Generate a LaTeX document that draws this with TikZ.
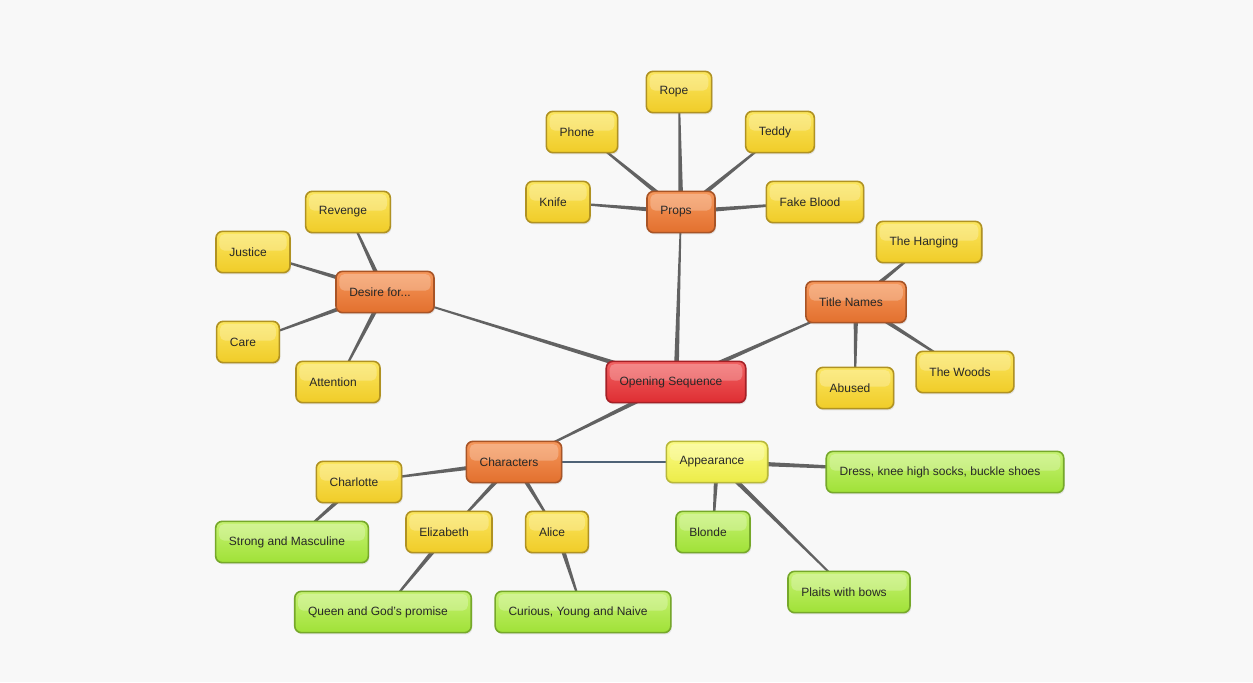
\documentclass[tikz,border=0pt]{standalone}
\usepackage{fontspec}
\setsansfont{Liberation Sans}
\usepackage{xcolor}
\usepackage{tikz}
\usetikzlibrary{calc, shadows, backgrounds}

\definecolor{paper}{RGB}{248,248,248}
\definecolor{textgray}{RGB}{40,40,40}
\definecolor{linkgray}{RGB}{98,98,98}
\definecolor{crossblue}{RGB}{78,98,118}
\definecolor{redtop}{RGB}{242,100,100}
\definecolor{redbot}{RGB}{222,45,50}
\definecolor{rededge}{RGB}{165,32,38}
\definecolor{orangetop}{RGB}{246,152,92}
\definecolor{orangebot}{RGB}{226,112,46}
\definecolor{orangeedge}{RGB}{168,84,38}
\definecolor{yellowtop}{RGB}{251,230,95}
\definecolor{yellowbot}{RGB}{240,204,40}
\definecolor{yellowedge}{RGB}{176,146,34}
\definecolor{paletop}{RGB}{251,251,135}
\definecolor{palebot}{RGB}{236,236,72}
\definecolor{paleedge}{RGB}{184,184,58}
\definecolor{greentop}{RGB}{198,242,115}
\definecolor{greenbot}{RGB}{160,225,55}
\definecolor{greenedge}{RGB}{118,168,42}

% tapered branch: wide at the parent, thin at the child
\newcommand{\mapedge}[2]{%
  \fill[linkgray] ($(#1)!1.9pt!90:(#2)$) -- ($(#2)!0.5pt!-90:(#1)$)
    -- ($(#2)!0.5pt!90:(#1)$) -- ($(#1)!1.9pt!-90:(#2)$) -- cycle;}

\begin{document}
\begin{tikzpicture}[
  x=0.75pt, y=-0.75pt,
  mapbox/.style={
    rectangle, rounded corners=5pt, line width=1.2pt,
    minimum height=31pt, inner xsep=10pt, inner ysep=2pt,
    text=textgray, font=\sffamily\fontsize{9}{11}\selectfont,
    execute at end node={\hspace*{7.5pt}},
    drop shadow={opacity=0.18, shadow xshift=0.8pt, shadow yshift=-1.3pt},
    path picture={\fill[white, opacity=0.25, rounded corners=4pt]
      ([xshift=2.5pt,yshift=-2pt]path picture bounding box.north west)
      rectangle ([xshift=-2.5pt,yshift=1pt]path picture bounding box.east);}
  },
  rootbox/.style={mapbox, draw=rededge, top color=redtop, bottom color=redbot},
  topicbox/.style={mapbox, draw=orangeedge, top color=orangetop, bottom color=orangebot},
  leafbox/.style={mapbox, draw=yellowedge, top color=yellowtop, bottom color=yellowbot},
  palebox/.style={mapbox, draw=paleedge, top color=paletop, bottom color=palebot},
  notebox/.style={mapbox, draw=greenedge, top color=greentop, bottom color=greenbot},
  crosslink/.style={draw=crossblue, line width=1pt}
]
% centre
\node[rootbox]  (root)   at (676,382) {Opening Sequence};
% props
\node[topicbox] (props)  at (681,212) {Props};
\node[leafbox]  (rope)   at (679,92)  {Rope};
\node[leafbox]  (phone)  at (582,132) {Phone};
\node[leafbox]  (teddy)  at (780,132) {Teddy};
\node[leafbox]  (knife)  at (558,202) {Knife};
\node[leafbox]  (blood)  at (815,202) {Fake Blood};
% desire
\node[topicbox] (desire) at (385,292) {Desire for...};
\node[leafbox]  (reveng) at (348,212) {Revenge};
\node[leafbox]  (justic) at (253,252) {Justice};
\node[leafbox]  (care)   at (248,342) {Care};
\node[leafbox]  (attent) at (338,382) {Attention};
% title names
\node[topicbox] (title)  at (856,302) {Title Names};
\node[leafbox]  (hang)   at (929,242) {The Hanging};
\node[leafbox]  (abused) at (855,388) {Abused};
\node[leafbox]  (woods)  at (965,372) {The Woods};
% characters
\node[topicbox] (chars)  at (514,462) {Characters};
\node[leafbox]  (charl)  at (359,482) {Charlotte};
\node[leafbox]  (eliz)   at (449,532) {Elizabeth};
\node[leafbox]  (alice)  at (557,532) {Alice};
\node[notebox]  (strong) at (292,542) {Strong and Masculine};
\node[notebox]  (queen)  at (383,612) {Queen and God's promise};
\node[notebox]  (curio)  at (583,612) {Curious, Young and Naive};
% appearance
\node[palebox]  (appear) at (717,462) {Appearance};
\node[notebox]  (dress)  at (945,472) {Dress, knee high socks, buckle shoes};
\node[notebox]  (blonde) at (713,532) {Blonde};
\node[notebox]  (plaits) at (849,592) {Plaits with bows};

\begin{scope}[on background layer]
  \fill[paper] (0,0) rectangle (1253,682);
  \foreach \p/\c in {root/props, root/desire, root/title, root/chars,
      props/rope, props/phone, props/teddy, props/knife, props/blood,
      desire/reveng, desire/justic, desire/care, desire/attent,
      title/hang, title/abused, title/woods,
      chars/charl, chars/eliz, chars/alice,
      charl/strong, eliz/queen, alice/curio,
      appear/dress, appear/blonde, appear/plaits}
    \mapedge{\p}{\c};
  \draw[crosslink] (chars) -- (appear);
\end{scope}
\end{tikzpicture}
\end{document}
